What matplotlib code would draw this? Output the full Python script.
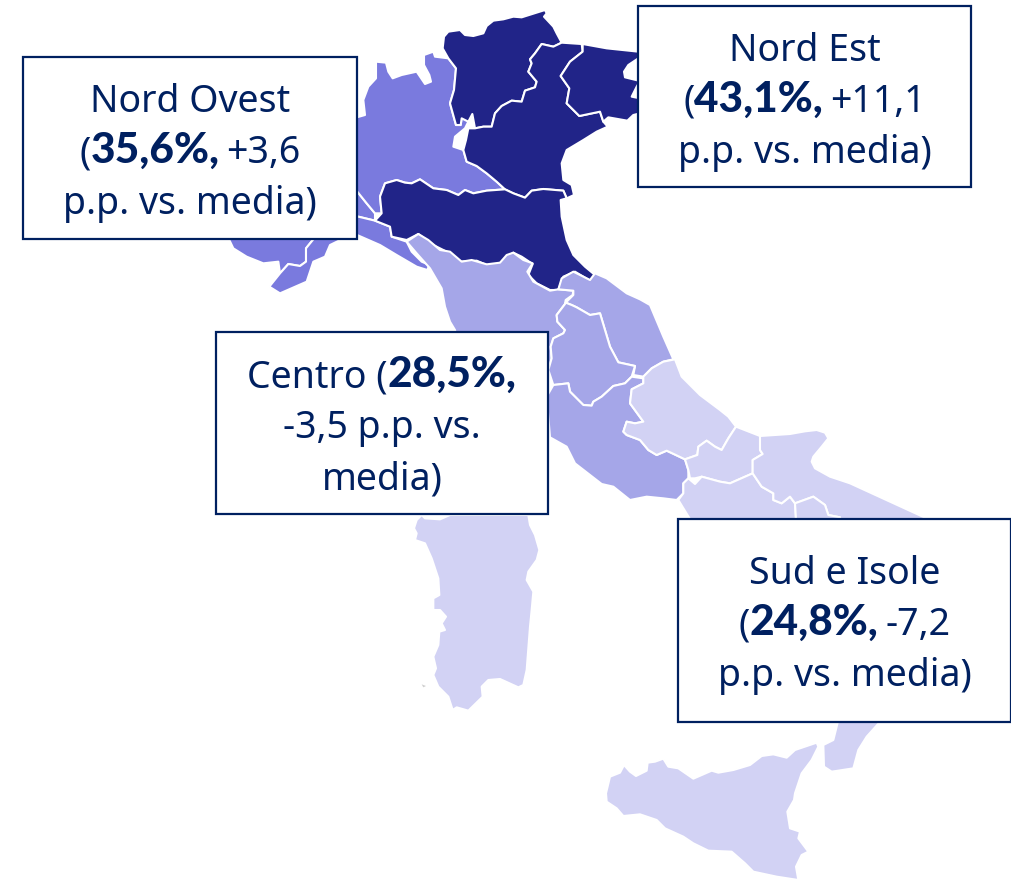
import numpy as np
import matplotlib
matplotlib.use("Agg")
import matplotlib.pyplot as plt
from matplotlib.patches import Rectangle

CROP1 = (220, 0)
CROP2 = (400, 230)
CROP3 = (400, 500)

trentino = [(668,145),(672,110),(685,95),(720,90),(735,105),(760,108),(790,100),(800,78),(820,62),(850,58),(880,50),(905,52),(975,30),(980,40),(972,50),(1000,80),(1010,100),(1025,128),(1000,140),(965,132),(945,160),(930,178),(935,190),(925,215),(950,245),(945,262),(915,272),(905,305),(875,302),(845,318),(825,340),(815,380),(790,380),(765,385),(757,342),(745,365),(725,355),(722,375),(708,375),(690,310),(702,270),(708,205),(685,175)]
veneto = [(1025,128),(1085,132),(1088,155),(1050,185),(1022,228),(1048,265),(1040,310),(1078,348),(1140,335),(1150,365),(1163,380),(1130,395),(1090,420),(1040,450),(1025,490),(1030,540),(1055,555),(1062,585),(1040,595),(1030,572),(970,567),(935,572),(915,593),(880,580),(855,568),(830,545),(800,520),(770,498),(740,485),(730,450),(738,420),(745,385),(765,385),(790,380),(815,380),(825,340),(845,318),(875,302),(905,305),(915,272),(945,262),(950,245),(925,215),(935,190),(930,178),(945,160),(965,132),(1000,140)]
friuli = [(1088,132),(1160,145),(1255,155),(1265,155),(1255,175),(1225,195),(1212,215),(1215,232),(1260,243),(1250,260),(1235,290),(1260,295),(1260,340),(1240,345),(1222,362),(1165,352),(1150,365),(1140,335),(1078,348),(1040,310),(1048,265),(1022,228),(1050,185),(1088,155)]
emilia = [(480,590),(495,550),(530,540),(555,548),(575,550),(600,538),(640,565),(680,570),(715,585),(735,570),(760,580),(800,572),(855,568),(880,580),(915,593),(935,572),(970,567),(1030,572),(1040,595),(1022,600),(1025,650),(1040,720),(1060,765),(1095,800),(1125,825),(1110,842),(1065,815),(1030,830),(1015,870),(990,870),(950,850),(925,825),(938,792),(905,770),(880,758),(850,780),(835,795),(800,795),(770,782),(720,785),(690,760),(640,735),(595,702),(560,720),(515,710),(510,680),(465,662),(485,640)]
lombardia = [(468,185),(498,188),(505,215),(518,235),(545,225),(590,215),(615,252),(633,245),(628,225),(612,195),(612,165),(640,155),(645,170),(685,175),(708,205),(702,270),(690,310),(708,375),(722,375),(725,355),(750,355),(735,385),(705,410),(700,440),(730,450),(740,485),(770,498),(800,520),(830,545),(855,568),(800,572),(760,580),(735,570),(715,585),(680,570),(640,565),(600,538),(575,550),(555,548),(530,540),(495,550),(480,590),(485,640),(465,640),(440,610),(400,560),(400,355),(435,345),(430,300),(445,260),(468,235)]
piemonte = [(200,300),(400,355),(400,560),(440,610),(465,640),(465,662),(415,650),(280,718),(258,745),(258,785),(240,798),(205,792),(180,820),(175,785),(130,790),(80,770),(40,745),(28,720),(20,600)]
liguria = [(280,718),(258,745),(258,785),(240,798),(205,792),(180,820),(148,860),(180,880),(260,845),(280,785),(315,770),(330,735),(365,718),(400,700),(480,735),(530,765),(590,800),(622,810),(628,795),(605,785),(575,755),(560,725),(515,710),(510,680),(465,662),(415,650)]

toscana = [(20,35),(55,12),(85,30),(120,60),(150,65),(185,95),(215,90),(260,103),(300,98),(320,75),(340,68),(370,90),(398,100),(382,125),(400,155),(450,182),(475,178),(520,182),(518,195),(497,210),(495,222),(470,255),(472,275),(495,300),(490,310),(460,325),(452,350),(455,385),(445,420),(440,500),(200,500),(165,300),(150,275),(135,230),(125,175),(90,115),(50,70)]
marche = [(475,178),(485,145),(520,125),(570,150),(585,130),(620,145),(680,190),(720,208),(750,225),(790,320),(820,388),(790,395),(755,415),(730,440),(700,435),(705,408),(655,397),(630,350),(600,250),(570,255),(530,232),(515,225),(497,218),(520,195),(520,182)]
umbria = [(497,218),(515,225),(530,232),(570,255),(600,250),(630,350),(655,397),(705,408),(695,440),(675,460),(640,468),(605,500),(580,515),(575,527),(550,525),(510,485),(505,460),(460,465),(445,420),(455,385),(452,350),(460,325),(490,310),(495,300),(472,275),(470,255),(495,222)]
lazio = [(460,465),(505,460),(510,485),(550,525),(575,527),(580,515),(605,500),(640,468),(675,460),(695,440),(730,445),(730,460),(695,478),(690,520),(730,575),(705,580),(680,575),(670,605),(680,615),(720,630),(745,660),(770,675),(800,662),(855,688),(865,720),(865,745),(850,760),(850,790),(830,810),(790,805),(740,800),(690,810),(640,770),(605,762),(525,700),(500,650),(450,622),(440,500)]

abruzzo = [(730,440),(755,415),(790,395),(825,388),(845,440),(900,495),(960,540),(985,560),(1008,590),(985,625),(965,660),(945,650),(920,632),(895,650),(892,675),(855,688),(800,662),(770,675),(745,660),(720,630),(680,615),(670,605),(680,575),(705,580),(730,575),(690,520),(695,478),(730,460)]
molise = [(1008,590),(1080,618),(1080,660),(1088,672),(1058,690),(1058,730),(990,760),(960,755),(905,740),(885,745),(870,745),(865,720),(855,688),(892,675),(895,650),(920,632),(945,650),(965,660),(985,625)]
campania = [(850,760),(865,745),(885,762),(905,740),(960,755),(990,760),(1058,730),(1085,770),(1120,790),(1120,810),(1145,820),(1170,800),(1185,820),(1190,900),(890,900),(835,810),(850,790)]
puglia = [(1080,618),(1170,612),(1215,604),(1250,600),(1275,608),(1285,625),(1265,650),(1240,680),(1235,695),(1245,715),(1290,740),(1350,760),(1590,870),(1590,900),(1320,900),(1320,862),(1285,855),(1275,825),(1240,800),(1185,820),(1170,800),(1145,820),(1120,810),(1120,790),(1085,770),(1058,730),(1058,690),(1088,672),(1080,660)]
basilicata = [(1185,820),(1240,800),(1275,825),(1285,855),(1320,862),(1320,900),(1190,900)]
calabria = [(1270,735),(1300,720),(1315,660),(1445,660),(1400,710),(1375,750),(1360,805),(1295,815),(1272,800)]
sardegna = [(65,45),(75,55),(120,58),(150,45),(385,45),(390,75),(405,105),(418,150),(410,180),(385,215),(380,240),(400,275),(395,330),(390,380),(380,510),(370,555),(355,562),(300,537),(265,540),(245,560),(248,590),(205,632),(170,622),(158,630),(145,590),(115,560),(100,525),(108,505),(100,470),(115,435),(118,395),(135,390),(125,370),(138,350),(120,330),(100,330),(100,295),(118,285),(115,235),(95,175),(75,130),(45,120),(50,100),(42,85),(50,60)]
sicilia = [(630,830),(660,818),(672,795),(690,815),(708,828),(740,812),(743,788),(765,785),(790,776),(805,800),(835,805),(880,836),(935,812),(955,818),(1000,810),(1050,795),(1085,768),(1120,763),(1160,773),(1185,750),(1250,728),(1255,740),(1235,780),(1205,820),(1185,880),(1182,900),(1162,935),(1170,985),(1200,995),(1195,1015),(1225,1055),(1205,1065),(1188,1100),(1195,1140),(1130,1130),(1060,1115),(1035,1090),(995,1055),(925,1052),(880,1030),(850,1010),(795,985),(770,960),(720,943),(670,948),(650,925),(620,905),(618,880)]
isolotto = [(65,553),(78,558),(70,562)]

NORD_OVEST = "#7a7ade"
NORD_EST = "#212488"
CENTRO = "#a5a6e8"
SUD = "#d2d2f4"
NAVY = "#002060"

regions = [
    (piemonte, CROP1, NORD_OVEST), (liguria, CROP1, NORD_OVEST), (lombardia, CROP1, NORD_OVEST),
    (trentino, CROP1, NORD_EST), (veneto, CROP1, NORD_EST), (friuli, CROP1, NORD_EST), (emilia, CROP1, NORD_EST),
    (toscana, CROP2, CENTRO), (marche, CROP2, CENTRO), (umbria, CROP2, CENTRO), (lazio, CROP2, CENTRO),
    (abruzzo, CROP2, SUD), (molise, CROP2, SUD), (campania, CROP2, SUD), (puglia, CROP2, SUD), (basilicata, CROP2, SUD),
    (calabria, CROP3, SUD), (sardegna, CROP3, SUD), (sicilia, CROP3, SUD),
]

# box = left, top, right, bottom; then the text lines as (text, bold) runs
labels = [
    ((23, 57, 357, 239), [[("Nord Ovest", False)], [("(", False), ("35,6%,", True), (" +3,6", False)], [("p.p. vs. media)", False)]]),
    ((638, 6, 971, 187), [[("Nord Est", False)], [("(", False), ("43,1%,", True), (" +11,1", False)], [("p.p. vs. media)", False)]]),
    ((216, 332, 548, 514), [[("Centro (", False), ("28,5%,", True)], [("-3,5 p.p. vs.", False)], [("media)", False)]]),
    ((678, 519, 1011, 722), [[("Sud e Isole", False)], [("(", False), ("24,8%,", True), (" -7,2", False)], [("p.p. vs. media)", False)]]),
]
first_baseline = [112, 61, 387, 584]

plt.rcParams['font.family'] = ['Noto Sans', 'DejaVu Sans']
FONT_SIZE = 27
BOLD_SIZE = 30.5
SPACE = 7
LINE_STEP = 51


def to_px(pts, crop):
    return np.array(pts) / 3 + np.array(crop)


fig = plt.figure(figsize=(10.12, 8.8), dpi=100)
ax = fig.add_axes([0, 0, 1, 1])
ax.set_xlim(0, 1012)
ax.set_ylim(880, 0)
ax.axis('off')

for pts, crop, color in regions:
    xy = to_px(pts, crop)
    ax.fill(xy[:, 0], xy[:, 1], facecolor=color, edgecolor='white', linewidth=1.5, joinstyle='round', zorder=2)
xy = to_px(isolotto, CROP3)
ax.fill(xy[:, 0], xy[:, 1], facecolor="#d0d0d0", edgecolor='none', zorder=2)

renderer = fig.canvas.get_renderer()
for (box, lines), base in zip(labels, first_baseline):
    left, top, right, bottom = box
    ax.add_patch(Rectangle((left, top), right - left, bottom - top, facecolor='white', edgecolor=NAVY, linewidth=1.6, zorder=3))
    cx = (left + right) / 2
    for i, runs in enumerate(lines):
        y = base + i * LINE_STEP
        items = []
        for s, b in runs:
            if b:
                # Noto Sans has no bold face here, Lato Black is the nearest heavy cut
                items.append(ax.text(0, y, s, color=NAVY, fontsize=BOLD_SIZE, family='Lato', fontweight='black', va='baseline', ha='left', zorder=4))
            else:
                items.append(ax.text(0, y, s.strip(), color=NAVY, fontsize=FONT_SIZE, va='baseline', ha='left', zorder=4))
        # leading and trailing spaces have no ink, so their width is added by hand
        widths = []
        for t, (s, b) in zip(items, runs):
            w = t.get_window_extent(renderer).width
            if s != s.strip():
                w += SPACE
            widths.append(w)
        x = cx - sum(widths) / 2
        for t, (s, b), w in zip(items, runs, widths):
            t.set_x(x + (SPACE if s.startswith(" ") else 0))
            x += w

fig.savefig("out.png", dpi=100)
